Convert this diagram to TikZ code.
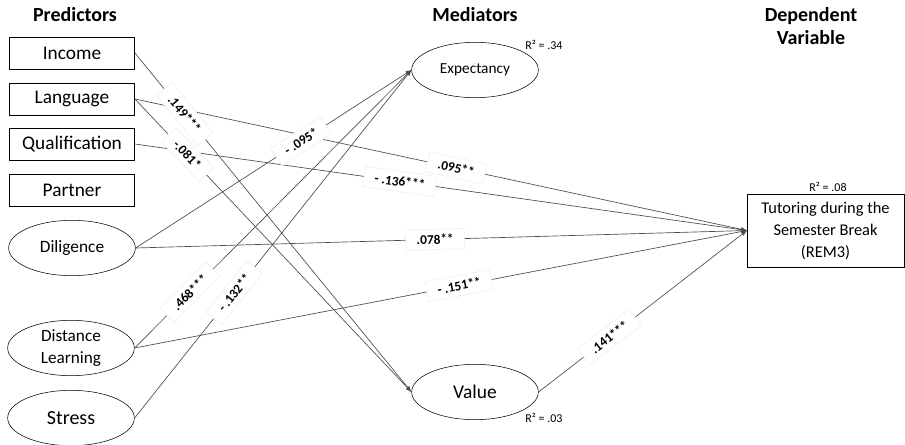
\documentclass[tikz,border=0pt]{standalone}
\usepackage{fontspec}
\setmainfont{Carlito}
\usepackage{tikz}
\usetikzlibrary{shapes.geometric}

\begin{document}
\begin{tikzpicture}[x=0.75pt, y=-0.75pt,
    pred/.style={draw, minimum width=94pt, minimum height=24pt, inner sep=0pt,
      font=\fontsize{14.5}{17}\selectfont},
    latent/.style={draw, ellipse, minimum width=95pt, minimum height=41.5pt, inner sep=0pt},
    coef/.style={sloped, fill=white, draw=black!6, text=black, inner xsep=8pt, inner ysep=4pt,
      font=\fontsize{10}{12}\selectfont\bfseries},
    rsq/.style={font=\fontsize{9}{11}\selectfont},
    head/.style={font=\fontsize{15}{18}\selectfont\bfseries, align=center},
    link/.style={->, >=latex, black!70, line width=0.5pt}]

    \useasboundingbox (0,0) rectangle (905,445);

    % column titles
    \node[head] (hPred) at (75, 15) {Predictors};
    \node[head] (hMed) at (475, 15) {Mediators};
    \node[head, font=\fontsize{15}{17}\selectfont\bfseries] (hDep) at (811, 26)
      {Dependent \\ Variable};

    % predictors
    \node[pred] (income) at (72, 53) {Income};
    \node[pred] (language) at (72, 99) {Language};
    \node[pred] (qualification) at (72, 144) {Qualification};
    \node[pred] (partner) at (72, 190) {Partner};

    \node[latent, font=\fontsize{13}{15}\selectfont] (diligence) at (72, 248) {Diligence};
    \node[latent, align=center, font=\fontsize{12.9}{16.5}\selectfont] (distance) at (71, 348)
      {Distance \\ Learning};
    \node[latent, font=\fontsize{15}{17}\selectfont] (stress) at (71, 418) {Stress};

    % mediators
    \node[latent, font=\fontsize{11.5}{14}\selectfont] (expectancy) at (475, 70) {Expectancy};
    \node[rsq] (rExp) at (544, 45) {R² = .34};

    \node[latent, font=\fontsize{14.6}{17}\selectfont] (value) at (475, 392) {Value};
    \node[rsq] (rVal) at (544, 418) {R² = .03};

    % dependent variable
    \node[draw, align=center, minimum width=117.5pt, minimum height=54.5pt, inner sep=0pt,
      font=\fontsize{12.3}{16.5}\selectfont] (tutoring) at (825.5, 230.5)
      {Tutoring during the \\ Semester Break \\ (REM3)};
    \node[rsq] (rTut) at (828, 187) {R² = .08};

    \path[link]
      (language.east) edge node[coef, pos=0.525]{.095**} (tutoring.west)
      (qualification.east) edge node[coef, pos=0.433]{- .136***} (tutoring.west)
      (diligence.east) edge node[coef, pos=0.49]{.078**} (tutoring.west)
      (distance.east) edge node[coef, pos=0.53]{- .151**} (tutoring.west)
      (value.east) edge node[coef, pos=0.34]{.141***} (tutoring.west);

    \path[link]
      (diligence.east) edge node[coef, pos=0.6]{- .095*} (expectancy.west)
      (distance.east) edge node[coef, pos=0.2]{.468***} (expectancy.west)
      (stress.east) edge node[coef, pos=0.36]{- .132**} (expectancy.west);

    \path[link]
      (income.east) edge node[coef, pos=0.18]{.149***} (value.west)
      (language.east) edge node[coef, pos=0.19]{-.081*} (value.west);
\end{tikzpicture}
\end{document}
